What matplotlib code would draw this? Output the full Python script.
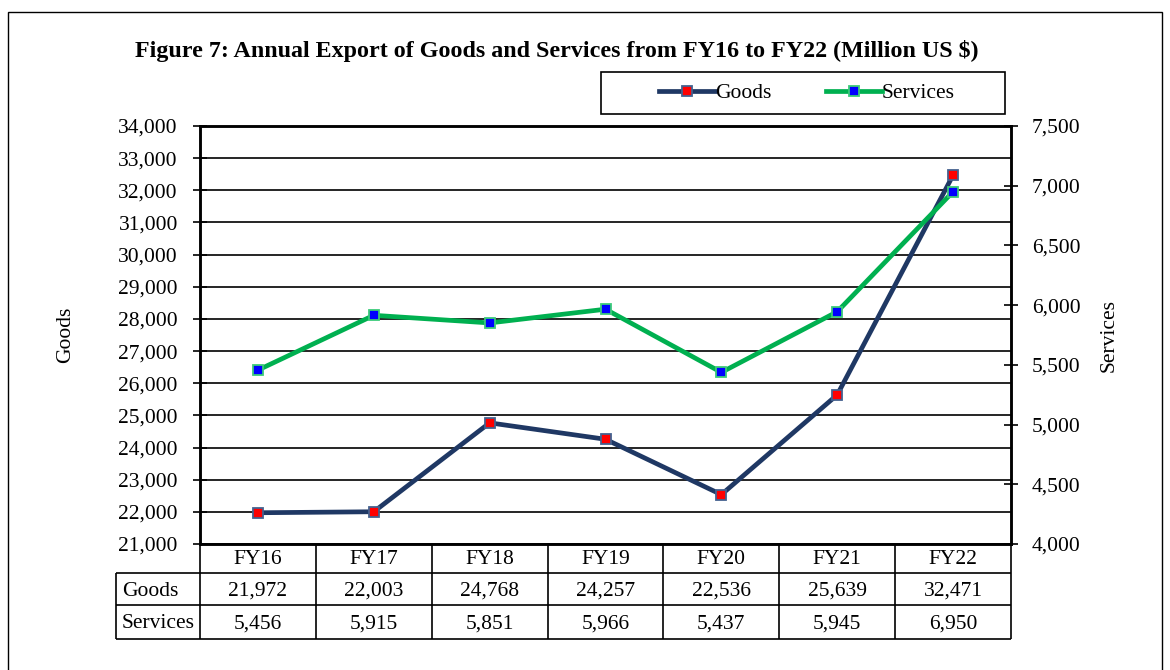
import matplotlib
matplotlib.use("Agg")
import matplotlib.pyplot as plt
from matplotlib.patches import Rectangle
from matplotlib.ticker import FuncFormatter, MultipleLocator

years = ["FY16", "FY17", "FY18", "FY19", "FY20", "FY21", "FY22"]
goods = [21972, 22003, 24768, 24257, 22536, 25639, 32471]
services = [5456, 5915, 5851, 5966, 5437, 5945, 6950]
row_names = ["Goods", "Services"]

plt.rcParams["font.family"] = ["Liberation Serif", "DejaVu Serif"]

W, H = 1170, 670
fig = plt.figure(figsize=(W / 100, H / 100), dpi=100)


def fx(px):
    return px / W


def fy(py):
    return 1 - py / H


# outer frame
fig.patches.append(Rectangle((fx(8), fy(700)), fx(1162) - fx(8), fy(12) - fy(700),
                             transform=fig.transFigure, fill=False, edgecolor="black", lw=1))

left, right, top, bottom = 200, 1011, 126, 544
ax = fig.add_axes([fx(left), fy(bottom), fx(right) - fx(left), fy(top) - fy(bottom)])
ax2 = ax.twinx()

x = list(range(len(years)))
comma = FuncFormatter(lambda v, p: f"{int(v):,}")
navy, green = "#1F3864", "#00B050"

lg, = ax.plot(x, goods, color=navy, lw=3.4, marker="s", markersize=6.5,
              markerfacecolor="red", markeredgecolor="#44618F", markeredgewidth=1.3,
              label="Goods", zorder=3)
ls, = ax2.plot(x, services, color=green, lw=3.4, marker="s", markersize=6.5,
               markerfacecolor="blue", markeredgecolor="#3CCB7A", markeredgewidth=1.3,
               label="Services", zorder=3)

ax.set_xlim(-0.5, len(years) - 0.5)
ax.set_ylim(21000, 34000)
ax.yaxis.set_major_locator(MultipleLocator(1000))
ax.yaxis.set_major_formatter(comma)
ax2.set_ylim(4000, 7500)
ax2.yaxis.set_major_locator(MultipleLocator(500))
ax2.yaxis.set_major_formatter(comma)

ax.set_xticks([])
ax.grid(axis="y", color="black", lw=1.2)
ax.set_axisbelow(True)
for a in (ax, ax2):
    for s in a.spines.values():
        s.set_linewidth(1.8)
        s.set_color("black")
ax.tick_params(axis="y", direction="inout", length=10, width=1.2, labelsize=15.5, pad=11)
ax2.tick_params(axis="y", direction="inout", length=10, width=1.2, labelsize=15.5, pad=10)
ax.set_ylabel("Goods", fontsize=15.5, labelpad=31)
ax2.set_ylabel("Services", fontsize=15.5, labelpad=14)

# data table under the plot, columns aligned with the category positions
t_left, t_bottom = 116, 639
unit = (right - left) / len(years)
tax = fig.add_axes([fx(t_left), fy(t_bottom), fx(right) - fx(t_left), fy(bottom) - fy(t_bottom)])
lab_x0 = -0.5 - (left - t_left) / unit
tax.set_xlim(lab_x0, len(years) - 0.5)
tax.set_ylim(t_bottom - bottom, 0)
tax.axis("off")
row_edges = [0, 29, 61, t_bottom - bottom]
lk = dict(color="black", lw=1.2, clip_on=False)
tax.vlines([i - 0.5 for i in range(len(years) + 1)], row_edges[0], row_edges[-1], **lk)
tax.vlines([lab_x0], row_edges[1], row_edges[-1], **lk)
tax.hlines(row_edges[1:], lab_x0, len(years) - 0.5, **lk)
for i, yr in enumerate(years):
    tax.text(i, (row_edges[0] + row_edges[1]) / 2 + 1, yr, ha="center", va="center", fontsize=15.5)
for r, (name, vals) in enumerate(zip(row_names, [goods, services])):
    yc = (row_edges[r + 1] + row_edges[r + 2]) / 2 + 2
    tax.text(lab_x0 + 0.05, yc, name, ha="left", va="center", fontsize=15.5)
    for i, v in enumerate(vals):
        tax.text(i, yc, f"{v:,}", ha="center", va="center", fontsize=15.5)

fig.text(fx(557), fy(51), "Figure 7: Annual Export of Goods and Services from FY16 to FY22 (Million US $)",
         ha="center", va="center", fontsize=17.3, fontweight="bold")

# legend box
fig.patches.append(Rectangle((fx(601), fy(114)), fx(1005) - fx(601), fy(72) - fy(114),
                             transform=fig.transFigure, fill=False, edgecolor="black", lw=1.2))
leg = fig.legend([lg, ls], ["Goods", "Services"], ncol=2,
                 loc="center", bbox_to_anchor=(fx(807), fy(93)),
                 frameon=False, fontsize=15.5,
                 handlelength=2.6, handletextpad=0.0, columnspacing=2.5)

fig.savefig("out.png", dpi=100)
